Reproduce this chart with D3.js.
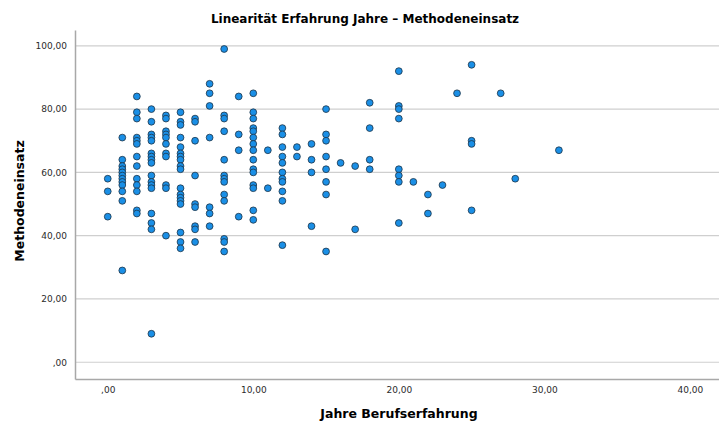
<!DOCTYPE html>
<html>
<head>
<meta charset="utf-8">
<script src="https://cdn.jsdelivr.net/npm/d3@7"></script>
<style>
  body { margin: 0; background: #fff; }
  text { font-family: "DejaVu Sans", sans-serif; }
</style>
</head>
<body>
<svg id="chart"></svg>
<script>
var width = 719;
var height = 425;

// Jahre Berufserfahrung (x) und Methodeneinsatz (y), paarweise
var jahre = [
  0, 0, 0,
  1, 1, 1, 1, 1, 1, 1, 1, 1, 1, 1, 1,
  2, 2, 2, 2, 2, 2, 2, 2, 2, 2, 2, 2, 2,
  3, 3, 3, 3, 3, 3, 3, 3, 3, 3, 3, 3, 3, 3, 3, 3, 3,
  4, 4, 4, 4, 4, 4, 4, 4, 4, 4, 4,
  5, 5, 5, 5, 5, 5, 5, 5, 5, 5, 5, 5, 5, 5, 5, 5, 5, 5,
  6, 6, 6, 6, 6, 6, 6, 6, 6,
  7, 7, 7, 7, 7, 7, 7,
  8, 8, 8, 8, 8, 8, 8, 8, 8, 8, 8, 8, 8,
  9, 9, 9, 9,
  10, 10, 10, 10, 10, 10, 10, 10, 10, 10, 10, 10, 10, 10, 10,
  11, 11,
  12, 12, 12, 12, 12, 12, 12, 12, 12, 12, 12,
  13, 13,
  14, 14, 14, 14,
  15, 15, 15, 15, 15, 15, 15, 15,
  16,
  17, 17,
  18, 18, 18, 18,
  20, 20, 20, 20, 20, 20, 20, 20,
  21,
  22, 22,
  23,
  24,
  25, 25, 25, 25,
  27,
  28,
  31
];
var einsatz = [
  58, 54, 46,
  71, 64, 62, 61, 60, 59, 58, 57, 56, 54, 51, 29,
  84, 79, 77, 71, 70, 69, 65, 62, 58, 56, 54, 48, 47,
  80, 76, 72, 71, 70, 66, 65, 64, 63, 59, 57, 56, 55, 47, 44, 42, 9,
  78, 77, 73, 72, 71, 69, 66, 65, 56, 55, 40,
  79, 76, 75, 71, 68, 66, 65, 64, 62, 61, 55, 53, 52, 51, 50, 41, 38, 36,
  77, 76, 70, 59, 50, 49, 43, 42, 38,
  88, 85, 81, 71, 49, 47, 43,
  99, 78, 77, 73, 64, 59, 58, 57, 53, 51, 39, 38, 35,
  84, 72, 67, 46,
  85, 79, 77, 74, 73, 71, 69, 67, 64, 61, 60, 56, 55, 48, 45,
  67, 55,
  74, 72, 68, 65, 63, 60, 58, 57, 54, 51, 37,
  68, 65,
  69, 64, 60, 43,
  80, 72, 70, 65, 61, 57, 53, 35,
  63,
  62, 42,
  82, 74, 64, 61,
  92, 81, 80, 77, 61, 59, 57, 44,
  57,
  53, 47,
  56,
  85,
  94, 70, 69, 48,
  85,
  58,
  67
];

var xTicks = [0, 10, 20, 30, 40];
var yTicks = [0, 20, 40, 60, 80, 100];

var data = jahre.map(function (j, i) {
  return { x: j, y: einsatz[i] };
});

// SPSS-Stil: Komma als Dezimaltrenner, ",00" statt "0,00"
var fmt = function (v) {
  var s = d3.format('.2f')(v).replace('.', ',');
  return s.replace(/^0,/, ',');
};

var svg = d3.select('#chart').attr('width', width).attr('height', height);

var x = d3.scaleLinear().domain([-2.25, 42]).range([75, 719]);
var y = d3.scaleLinear().domain([-5.3, 105]).range([379, 30]);

// grid lines
svg.append('g')
  .selectAll('line')
  .data(yTicks)
  .enter().append('line')
  .attr('x1', 75)
  .attr('x2', 719)
  .attr('y1', d => y(d))
  .attr('y2', d => y(d))
  .attr('stroke', '#cfcfcf')
  .attr('stroke-width', 1.2);

// axes
var xAxis = svg.append('g')
  .attr('transform', 'translate(0,379)')
  .call(d3.axisBottom(x).tickValues(xTicks).tickFormat(fmt).tickSize(0).tickPadding(8));
var yAxis = svg.append('g')
  .attr('transform', 'translate(75,0)')
  .call(d3.axisLeft(y).tickValues(yTicks).tickFormat(fmt).tickSize(0).tickPadding(8));

[xAxis, yAxis].forEach(function (a) {
  a.select('.domain').attr('stroke', '#a8a8a8').attr('stroke-width', 1.5);
  a.selectAll('text')
    .attr('fill', '#2b2b2b')
    .style('font-family', '"DejaVu Sans", sans-serif')
    .style('font-size', '9px');
});

// points
svg.append('g')
  .selectAll('circle')
  .data(data)
  .enter().append('circle')
  .attr('cx', d => x(d.x))
  .attr('cy', d => y(d.y))
  .attr('r', 3.4)
  .attr('fill', '#1a8fe6')
  .attr('stroke', '#1d3346')
  .attr('stroke-width', 0.8);

// labels
svg.append('text')
  .attr('x', 365)
  .attr('y', 23)
  .attr('text-anchor', 'middle')
  .style('font-weight', 'bold')
  .style('font-size', '12px')
  .text('Linearität Erfahrung Jahre – Methodeneinsatz');

svg.append('text')
  .attr('x', 399)
  .attr('y', 418)
  .attr('text-anchor', 'middle')
  .style('font-weight', 'bold')
  .style('font-size', '12.5px')
  .text('Jahre Berufserfahrung');

svg.append('text')
  .attr('transform', 'translate(24,201) rotate(-90)')
  .attr('text-anchor', 'middle')
  .style('font-weight', 'bold')
  .style('font-size', '12.5px')
  .text('Methodeneinsatz');
</script>
</body>
</html>
